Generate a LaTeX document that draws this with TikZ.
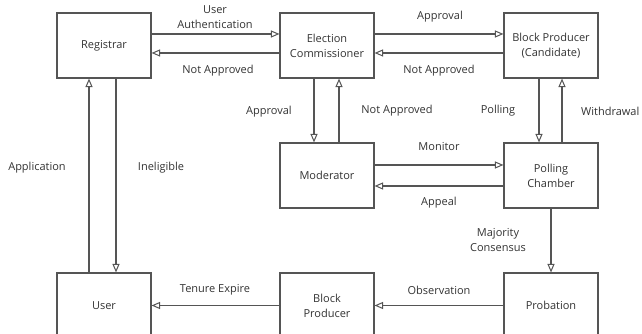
\documentclass[tikz,border=0pt]{standalone}
\usepackage{fontspec}
\setmainfont{Open Sans}
\usetikzlibrary{arrows.meta}
\definecolor{linegray}{HTML}{555555}
\definecolor{textgray}{HTML}{333333}
\begin{document}
\begin{tikzpicture}[x=1pt,y=1pt,
  font=\fontsize{11}{15}\selectfont,
  text=textgray,
  block/.style={draw=linegray, line width=1.1pt, minimum width=94pt, minimum height=65pt,
    align=center, inner sep=0pt},
  lbl/.style={align=center, inner sep=0pt},
  arr/.style={draw=linegray, line width=1.1pt,
    -{Triangle[open, length=8.5pt, width=7pt, line width=1pt]}}]
\clip (0,0) rectangle (642,334);
\fill[white] (0,0) rectangle (642,334);

% boxes
\node[block] (reg) at (104,288.5) {Registrar};
\node[block] (ec)  at (327,288.5) {Election\\Commissioner};
\node[block] (bpc) at (551,288.5) {Block Producer\\(Candidate)};
\node[block] (mod) at (327,158.5) {Moderator};
\node[block] (pc)  at (551,158.5) {Polling\\Chamber};
\node[block] (usr) at (104,28.5) {User};
\node[block] (bp)  at (327,28.5) {Block\\Producer};
\node[block] (prob) at (551,28.5) {Probation};

% top row
\draw[arr] ([yshift=11.5pt]reg.east) -- ([yshift=11.5pt]ec.west);
\draw[arr] ([yshift=-7.5pt]ec.west) -- ([yshift=-7.5pt]reg.east);
\draw[arr] ([yshift=11.5pt]ec.east) -- ([yshift=11.5pt]bpc.west);
\draw[arr] ([yshift=-7.5pt]bpc.west) -- ([yshift=-7.5pt]ec.east);

% verticals
\draw[arr] ([xshift=-15pt]usr.north) -- ([xshift=-15pt]reg.south);
\draw[arr] ([xshift=12pt]reg.south) -- ([xshift=12pt]usr.north);
\draw[arr] ([xshift=-13pt]ec.south) -- ([xshift=-13pt]mod.north);
\draw[arr] ([xshift=12pt]mod.north) -- ([xshift=12pt]ec.south);
\draw[arr] ([xshift=-12pt]bpc.south) -- ([xshift=-12pt]pc.north);
\draw[arr] ([xshift=11pt]pc.north) -- ([xshift=11pt]bpc.south);
\draw[arr] (pc.south) -- (prob.north);

% middle row
\draw[arr] ([yshift=10.5pt]mod.east) -- ([yshift=10.5pt]pc.west);
\draw[arr] ([yshift=-10.5pt]pc.west) -- ([yshift=-10.5pt]mod.east);

% bottom row
\draw[arr] (prob.west) -- (bp.east);
\draw[arr] (bp.west) -- (usr.east);

% labels
\node[lbl] (l1) at (215,317) {User\\Authentication};
\node[lbl] (l2) at (218,263) {Not Approved};
\node[lbl] (l3) at (440,317) {Approval};
\node[lbl] (l4) at (439,263) {Not Approved};
\node[lbl] (l5) at (269,222) {Approval};
\node[lbl] (l6) at (397,223) {Not Approved};
\node[lbl] (l7) at (498,223) {Polling};
\node[lbl, anchor=west] (l8) at (581,223) {Withdrawal};
\node[lbl] (l9) at (37,166) {Application};
\node[lbl] (l10) at (161,166) {Ineligible};
\node[lbl] (l11) at (439,187) {Monitor};
\node[lbl] (l12) at (439,131) {Appeal};
\node[lbl] (l13) at (498,94) {Majority\\Consensus};
\node[lbl] (l14) at (215,44) {Tenure Expire};
\node[lbl] (l15) at (439,44) {Observation};
\end{tikzpicture}
\end{document}
